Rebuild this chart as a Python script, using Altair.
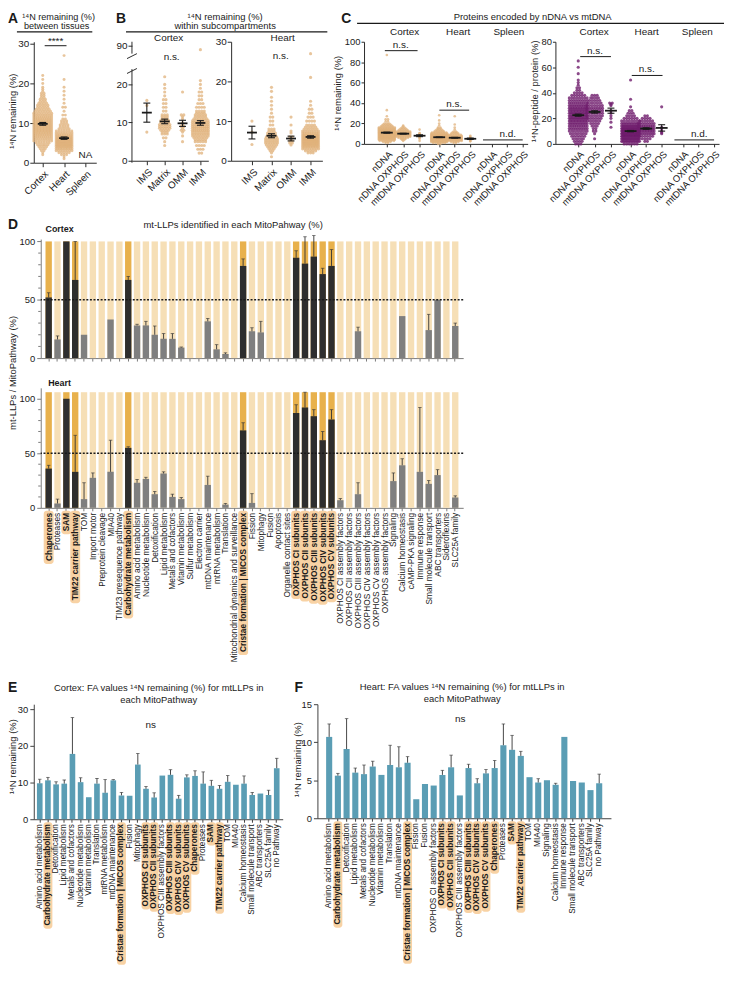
import altair as alt
import pandas as pd

FONT = "Liberation Sans"
INK = "#1a1a1a"
AX = "#2a2a2a"
TAN = "#e0b27b"
PURPLE = "#6f1d6d"
ORANGE_L = "#f6dfb6"
ORANGE_D = "#e8b14c"
DARK = "#2e2e2e"
GREY = "#7f7f7f"
HLBG = "#f8d2a4"
TEAL = "#5a9db4"
SUP = "\u00b9\u2074N"

ONE = pd.DataFrame({"a": [0]})

A_cats = ["Cortex", "Heart", "Spleen"]
A_cortex_v = [2, 2.5, 3, 3.5, 4, 4.5, 5, 5.5, 6, 6.5, 7, 7.5, 8, 8.5, 9, 9.5, 10, 10.5, 11, 11.5,
              12, 12.5, 13, 13.5, 14, 14.5, 15, 15.5, 16, 16.5, 17, 17.5, 18, 18.5, 19, 20, 21, 22]
A_cortex_n = [1, 1, 2, 3, 4, 5, 6, 8, 9, 10, 11, 12, 13, 13, 13, 13, 12, 12, 11, 10,
              9, 8, 7, 6, 5, 5, 4, 3, 3, 2, 2, 2, 1, 1, 1, 1, 1, 1]
A_heart_v = [1, 1.5, 2, 2.5, 3, 3.5, 4, 4.5, 5, 5.5, 6, 6.5, 7, 7.5, 8, 8.5, 9, 9.5, 10, 10.5,
             11, 12, 13, 14, 15, 16, 17, 18, 19, 21, 27]
A_heart_n = [1, 1, 3, 5, 8, 11, 14, 16, 17, 16, 14, 12, 10, 8, 7, 5, 4, 4, 3, 3,
             2, 2, 1, 2, 1, 1, 1, 1, 1, 1, 1]
A_mean = [9.8, 6.2]
A_sem = [0.35, 0.3]

# ---------------- Panel B ----------------
B_cats = ["IMS", "Matrix", "OMM", "IMM"]
Bc_IMS_v = [7.5, 14.5, 15.8]
Bc_IMS_n = [1, 1, 1]
Bc_Matrix_v = [4, 5, 6, 7, 7.5, 8, 8.5, 9, 9.5, 10, 10.5, 11, 11.5, 12, 13, 14, 15, 16, 17, 18, 19, 20, 22]
Bc_Matrix_n = [1, 1, 2, 3, 3, 4, 5, 5, 5, 4, 4, 3, 3, 3, 2, 2, 2, 2, 1, 1, 1, 1, 1]
Bc_OMM_v = [5, 6.5, 7.5, 8, 8.5, 9, 9.5, 10, 11, 11.5, 12, 18]
Bc_OMM_n = [1, 1, 1, 2, 1, 2, 1, 1, 1, 1, 2, 1]
Bc_IMM_v = [2, 3, 4, 5, 5.5, 6, 6.5, 7, 7.5, 8, 8.5, 9, 9.5, 10, 10.5, 11, 11.5, 12, 12.5, 13,
            14, 15, 16, 17, 18, 19, 20, 21, 88]
Bc_IMM_n = [2, 3, 4, 5, 5, 6, 7, 8, 8, 9, 9, 9, 8, 8, 7, 6, 5, 5, 4, 4,
            4, 3, 2, 2, 2, 1, 1, 1, 1]
Bc_mean = [12.6, 10.3, 9.8, 9.9]
Bc_sem = [2.5, 0.6, 0.8, 0.6]

Bh_IMS_v = [4.1, 7.2, 10]
Bh_IMS_n = [1, 1, 1]
Bh_Matrix_v = [1, 2, 2.5, 3, 3.5, 4, 4.5, 5, 5.5, 6, 6.5, 7, 7.5, 8, 9, 10, 11, 12, 13, 14, 15, 16, 17.5, 18.5]
Bh_Matrix_n = [1, 1, 2, 3, 4, 5, 6, 6, 6, 5, 4, 4, 3, 3, 2, 2, 2, 1, 1, 1, 1, 1, 1, 1]
Bh_OMM_v = [4, 4.5, 5, 5.5, 6, 7, 7.5, 9, 11]
Bh_OMM_n = [1, 2, 2, 1, 2, 1, 1, 1, 1]
Bh_IMM_v = [2, 2.5, 3, 3.5, 4, 4.5, 5, 5.5, 6, 6.5, 7, 7.5, 8, 8.5, 9, 10, 11, 12, 13, 14, 15, 21, 27]
Bh_IMM_n = [3, 5, 8, 11, 14, 16, 17, 16, 14, 12, 10, 8, 6, 5, 4, 4, 3, 2, 2, 1, 1, 1, 1]
Bh_mean = [7.1, 6.3, 5.6, 6.0]
Bh_sem = [1.6, 0.5, 0.6, 0.3]

# ---------------- Panel C ----------------
C_labels = ["nDNA", "nDNA OXPHOS", "mtDNA OXPHOS"] * 3
C_pos = [0, 1, 2, 3.2, 4.15, 5.1, 6.4, 7.35, 8.3]

Cl_ctx_n_v = [1, 2, 3, 4, 5, 6, 7, 8, 9, 10, 11, 12, 13, 14, 15, 16, 17, 18, 19, 20, 22, 24, 27, 33, 87]
Cl_ctx_n_n = [2, 4, 7, 10, 14, 18, 20, 22, 22, 21, 19, 17, 14, 12, 10, 8, 6, 5, 4, 3, 2, 2, 1, 1, 1]
Cl_ctx_o_v = [3, 4, 5, 6, 7, 8, 9, 10, 11, 12, 13, 14, 15, 16, 17, 18]
Cl_ctx_o_n = [1, 2, 3, 5, 7, 8, 9, 9, 8, 7, 5, 4, 3, 2, 1, 1]
Cl_ctx_m_v = [3, 5, 6, 7, 7.5, 8, 9, 10, 10.5, 14]
Cl_ctx_m_n = [1, 1, 1, 1, 1, 1, 1, 1, 1, 1]
Cl_hrt_n_v = [0, 1, 2, 3, 4, 5, 6, 7, 8, 9, 10, 11, 12, 13, 14, 15, 16, 18, 20, 23, 28]
Cl_hrt_n_n = [2, 6, 12, 20, 26, 28, 26, 22, 17, 13, 10, 7, 5, 4, 3, 2, 2, 1, 1, 1, 1]
Cl_hrt_o_v = [1, 2, 3, 4, 5, 6, 7, 8, 9, 10, 11, 12, 14, 16, 19, 27]
Cl_hrt_o_n = [2, 4, 8, 12, 14, 13, 10, 8, 6, 4, 3, 2, 1, 1, 1, 1]
Cl_hrt_m_v = [2.5, 3, 4, 4.5, 5, 5.5, 6, 7, 8]
Cl_hrt_m_n = [1, 1, 1, 1, 1, 1, 1, 1, 1]
Cl_mean = [11.0, 10.0, 8.0, 6.5, 6.0, 5.0]
Cl_sem = [0.5, 0.4, 0.9, 0.3, 0.4, 0.7]

Cr_ctx_n_v = [0, 2, 4, 6, 8, 10, 12, 14, 16, 18, 20, 22, 24, 26, 28, 30, 32, 34, 36, 38,
              40, 42, 44, 46, 48, 50, 55, 60, 65]
Cr_ctx_n_n = [3, 4, 5, 6, 7, 8, 10, 11, 12, 13, 14, 14, 14, 13, 12, 11, 10, 9, 8, 6,
              4, 2, 2, 1, 1, 1, 1, 1, 1]
Cr_ctx_o_v = [4, 8, 10, 12, 14, 16, 18, 20, 22, 24, 26, 28, 30, 32, 34, 36, 38]
Cr_ctx_o_n = [1, 1, 2, 2, 3, 4, 5, 6, 7, 8, 8, 8, 7, 6, 5, 4, 3]
Cr_ctx_m_v = [13, 17, 20, 22, 24, 26, 30, 31, 32]
Cr_ctx_m_n = [1, 1, 1, 1, 1, 1, 1, 1, 2]
Cr_hrt_n_v = [0, 2, 4, 6, 8, 10, 12, 14, 16, 18, 20, 22, 24, 26, 29, 35, 50]
Cr_hrt_n_n = [6, 14, 20, 24, 26, 26, 22, 17, 12, 8, 6, 4, 3, 2, 1, 1, 1]
Cr_hrt_o_v = [2, 4, 6, 8, 10, 12, 14, 16, 18, 20, 22]
Cr_hrt_o_n = [2, 4, 6, 9, 11, 12, 10, 8, 6, 4, 2]
Cr_hrt_m_v = [8, 9, 10, 12, 13, 29]
Cr_hrt_m_n = [1, 1, 1, 1, 1, 1]
Cr_mean = [22.5, 25.0, 26.0, 10.0, 12.0, 12.5]
Cr_sem = [0.8, 0.9, 2.0, 0.5, 0.6, 2.5]

# ---------------- Panel D ----------------
D_cats = ["Chaperones", "Proteases", "SAM", "TIM22 carrier pathway", "TOM", "Import motor",
          "Preprotein cleavage", "MIA40", "TIM23 presequence pathway", "Carbohydrate metabolism",
          "Amino acid metabolism", "Nucleotide metabolism", "Detoxification", "Lipid metabolism",
          "Metals and cofactors", "Vitamin metabolism", "Sulfur metabolism", "Electron carrier",
          "mtDNA maintenance", "mtRNA metabolism", "Translation",
          "Mitochondrial dynamics and surveillance", "Cristae formation | MICOS complex",
          "Fission", "Mitophagy", "Fusion", "Apoptosis", "Organelle contact sites",
          "OXPHOS CI subunits", "OXPHOS CII subunits", "OXPHOS CIII subunits",
          "OXPHOS CIV subunits", "OXPHOS CV subunits", "OXPHOS CI assembly factors",
          "OXPHOS CII assembly factors", "OXPHOS CIII assembly factors",
          "OXPHOS CIV assembly factors", "OXPHOS CV assembly factors", "OXPHOS assembly factors",
          "Signaling", "Calcium homeostasis", "cAMP-PKA signaling", "Immune response",
          "Small molecule transport", "ABC transporters", "Sideroflexins", "SLC25A family"]
HL = ["Chaperones", "SAM", "TIM22 carrier pathway", "Carbohydrate metabolism",
      "Cristae formation | MICOS complex", "OXPHOS CI subunits", "OXPHOS CII subunits",
      "OXPHOS CIII subunits", "OXPHOS CIV subunits", "OXPHOS CV subunits"]
D_ctx_val = [52, 16, 100, 67, 20, 0, 0, 33, 0, 67, 28, 28, 20, 16.5, 16.5, 9, 0, 0, 31.5, 7.5, 3.5,
             0, 79, 23, 22, 0, 0, 0, 86, 81, 87, 72, 79, 0, 0, 23, 0, 0, 0, 0, 36, 0, 0, 24, 50, 0, 27.5]
D_ctx_err = [56, 19, None, 100, None, None, None, None, None, 70, 29, 31.5, 27.5, 21, 21, 9.5, None,
             None, 34, 11.5, 4.5, None, 85, 26, 31.5, None, None, None, 92, 104, 105, 77, 93, None,
             None, 26.5, None, None, None, None, None, None, None, 37.5, None, None, 30]
D_hrt_val = [36, 4, 100, 33, 8, 27.5, 0, 33, 0, 55, 23, 26.5, 12.5, 31.5, 10, 8, 0, 0, 21, 0, 3,
             0, 71, 4.5, 0, 0, 0, 0, 87, 92, 84, 62, 81, 7, 0, 12.5, 0, 0, 0, 24.5, 39, 0, 33, 22,
             30, 0, 9.5]
D_hrt_err = [39, 8, None, 66.5, 23, 32, None, 62, None, 56, 26, 28, 15, 33, 12.5, 9.5, None, None,
             29, None, 4, None, 78, 13, None, None, None, None, 94.5, 106, 90, 70, 90, 8.5, None,
             23, None, None, None, 32, 45, None, 92, 25, 35, None, 11]
D_minor_ticks = [10, 20, 30, 40, 60, 70, 80, 90]

# ---------------- Panels E and F ----------------
E_cats = ["Amino acid metabolism", "Carbohydrate metabolism", "Detoxification", "Lipid metabolism",
          "Metals and cofactors", "Nucleotide metabolism", "Vitamin metabolism", "Translation",
          "mtRNA metabolism", "mtDNA maintenance", "Cristae formation | MICOS complex", "Fusion",
          "Mitophagy", "OXPHOS CI subunits", "OXPHOS CII subunits", "OXPHOS CIII assembly factors",
          "OXPHOS CIII subunits", "OXPHOS CIV subunits", "OXPHOS CV subunits", "Chaperones",
          "Proteases", "SAM", "TIM22 carrier pathway", "TOM", "MIA40", "Calcium homeostasis",
          "Small molecule transport", "ABC transporters", "SLC25A family", "no Pathway"]
E_val = [9.8, 10.6, 9.5, 9.7, 17.8, 10.1, 6.0, 9.7, 7.2, 10.6, 6.5, 6.4, 14.9, 8.3, 5.9, 11.9,
         12.1, 5.6, 11.4, 11.8, 9.7, 9.1, 8.3, 10.2, 9.4, 9.7, 6.6, 7.0, 6.6, 13.9]
E_err = [10.9, 11.4, 10.2, 10.7, 27.7, 11.3, None, 11.1, 10.8, 10.8, 7.3, None, 17.9, 8.9, 7.2,
         None, 13.5, 6.5, 12.1, 13.2, 12.9, 10.6, 9.2, 11.9, None, 11.8, 7.3, None, 7.9, 16.6]

F_cats = ["Amino acid metabolism", "Carbohydrate metabolism", "Detoxification", "Lipid metabolism",
          "Metals and cofactors", "Nucleotide metabolism", "Vitamin metabolism", "Translation",
          "mtDNA maintenance", "Cristae formation | MICOS complex", "Fission", "Fusion",
          "OXPHOS CI assembly factors", "OXPHOS CI subunits", "OXPHOS CII subunits",
          "OXPHOS CIII assembly factors", "OXPHOS CIII subunits", "OXPHOS CIV subunits",
          "OXPHOS CV subunits", "Chaperones", "Proteases", "SAM", "TIM22 carrier pathway", "TOM",
          "MIA40", "Signaling", "Calcium homeostasis", "Immune response", "Small molecule transport",
          "ABC transporters", "SLC25A family", "no Pathway"]
F_val = [10.7, 5.6, 9.1, 6.0, 5.8, 6.8, 5.7, 7.0, 6.7, 7.3, 2.5, 4.5, 4.3, 5.7, 6.7, 3.0, 6.6,
         4.6, 5.9, 6.6, 9.6, 9.0, 8.2, 5.4, 4.7, 5.0, 4.4, 10.7, 4.9, 4.7, 3.7, 4.6]
F_err = [12.4, 5.9, 13.1, 6.6, 7.0, 7.5, None, 9.6, 9.4, 8.1, None, None, None, 6.3, 8.3, None,
         7.1, 5.2, 6.4, 7.6, 12.4, 10.9, 8.8, None, 5.2, None, 4.6, None, None, None, None, 5.8]

# approximate bold glyph widths (per 1000 em) used to size label highlight boxes
_BW = {" ": 278, "|": 280, "(": 333, ")": 333, "-": 333, "2": 556}
_BW.update(zip("ABCDEFGHIJKLMNOPQRSTUVWXYZ",
               [722, 722, 722, 722, 667, 611, 778, 722, 278, 556, 722, 611, 833, 722, 778, 667,
                778, 722, 667, 611, 722, 667, 944, 667, 667, 611]))
_BW.update(zip("abcdefghijklmnopqrstuvwxyz",
               [556, 611, 556, 611, 556, 333, 611, 611, 278, 278, 556, 278, 889, 611, 611, 611,
                611, 389, 556, 333, 611, 556, 778, 556, 556, 500]))


def bold_w(s, size):
    return sum(_BW.get(ch, 600) for ch in s) * size / 1000.0


# ---------------- helpers ----------------
def text(s, x, y, size=9.5, weight="normal", align="center", baseline="middle", angle=0, color=INK):
    return alt.Chart(ONE).mark_text(text=s, font=FONT, fontSize=size, fontWeight=weight, align=align,
                                    baseline=baseline, angle=angle, color=color
                                    ).encode(x=alt.value(x), y=alt.value(y))


def hline(x1, x2, y, w=1.0):
    return alt.Chart(ONE).mark_rule(color=INK, strokeWidth=w).encode(
        x=alt.value(x1), x2=alt.value(x2), y=alt.value(y))


def seg(x1, y1, x2, y2, w=1.0):
    return alt.Chart(ONE).mark_rule(color=AX, strokeWidth=w).encode(
        x=alt.value(x1), x2=alt.value(x2), y=alt.value(y1), y2=alt.value(y2))


def spacer(w, h=1):
    return alt.Chart(ONE).mark_point(opacity=0, size=1).encode(
        x=alt.value(w / 2), y=alt.value(h / 2)).properties(width=w, height=h)


def swarm(groups, positions, unit_px, half_px, gap=2.6):
    rows = []
    for (vals, cnts), pos, hp in zip(groups, positions, half_px):
        for v, c in zip(vals, cnts):
            sp = gap if c < 2 else min(gap, 2.0 * hp / (c - 1))
            for k in range(c):
                rows.append({"x": pos + (k - (c - 1) / 2.0) * sp / unit_px, "y": v})
    return pd.DataFrame(rows)


def stat_df(pos, means, sems, unit, mh=5.0, ch=3.5):
    return pd.DataFrame({
        "pos": pos, "mean": means,
        "lo": [m - s for m, s in zip(means, sems)], "hi": [m + s for m, s in zip(means, sems)],
        "ml": [p - mh / unit for p in pos], "mr": [p + mh / unit for p in pos],
        "cl": [p - ch / unit for p in pos], "cr": [p + ch / unit for p in pos]})


def scatter_panel(pts, st, width, height, xdom, yscale, yvals, xvals, xlabels, color, size,
                  extras, ydomain_line=True, lab=10, tick=4, opacity=0.75):
    expr = "[" + ",".join("'%s'" % l for l in xlabels) + "][indexof([" + \
           ",".join(repr(v) for v in xvals) + "], datum.value)]"
    xax = alt.Axis(values=xvals, labelExpr=expr, labelAngle=-45, labelAlign="right", title=None,
                   tickSize=tick, labelFontSize=lab, labelPadding=2, labelOverlap=False,
                   labelFlush=False)
    yax = alt.Axis(values=yvals, title=None, tickSize=tick, labelFontSize=lab, labelPadding=1,
                   domain=ydomain_line, labelOverlap=False, labelFlush=False)
    xs = alt.Scale(domain=xdom, nice=False, zero=False)

    def X(f):
        return alt.X(f, scale=xs, axis=xax)

    def Y(f):
        return alt.Y(f, scale=yscale, axis=yax)

    p = alt.Chart(pts).mark_circle(size=size, opacity=opacity, color=color).encode(x=X("x:Q"), y=Y("y:Q"))
    m = alt.Chart(st).mark_rule(color=INK, strokeWidth=1.8).encode(x=X("ml:Q"), x2="mr:Q", y=Y("mean:Q"))
    e = alt.Chart(st).mark_rule(color=INK, strokeWidth=1.1).encode(x=X("pos:Q"), y=Y("lo:Q"), y2="hi:Q")
    c1 = alt.Chart(st).mark_rule(color=INK, strokeWidth=1.1).encode(x=X("cl:Q"), x2="cr:Q", y=Y("lo:Q"))
    c2 = alt.Chart(st).mark_rule(color=INK, strokeWidth=1.1).encode(x=X("cl:Q"), x2="cr:Q", y=Y("hi:Q"))
    return alt.layer(p, m, e, c1, c2, *extras).properties(width=width, height=height)


def label_layers(cats, X, base_y, size, rect_w):
    df = pd.DataFrame({"cat": cats})
    df["hl"] = df["cat"].isin(HL)
    df["r0"] = base_y - 2.0
    df["r1"] = [base_y + bold_w(c, size) + 3.0 for c in cats]
    rect = alt.Chart(df[df["hl"]]).mark_bar(width=rect_w, cornerRadius=3, color=HLBG).encode(
        x=X, y=alt.Y("r0:Q", scale=alt.Scale(domain=[0, 1000], range=[0, 1000], nice=False), axis=None),
        y2="r1:Q")
    tn = alt.Chart(df[~df["hl"]]).mark_text(angle=270, align="right", baseline="middle", fontSize=size,
                                            font=FONT, color=INK).encode(x=X, y=alt.value(base_y), text="cat:N")
    tb = alt.Chart(df[df["hl"]]).mark_text(angle=270, align="right", baseline="middle", fontSize=size,
                                           font=FONT, fontWeight="bold", color=INK).encode(
        x=X, y=alt.value(base_y), text="cat:N")
    return [rect, tn, tb]


def bar_panel(cats, vals, errs, bg, ydom, yvals, width, height, pin, pout, extras, mode,
              labels=False, lab_size=8.4, rect_w=10, axis_color="#7a7a7a"):
    df = pd.DataFrame({"cat": cats, "val": vals, "err": errs, "hl": [c in HL for c in cats]})
    if bg is not None:
        df["bg"] = bg
    xs = alt.Scale(paddingInner=pin, paddingOuter=pout)
    xax = alt.Axis(labels=False, title=None, tickSize=3, domainColor=axis_color, tickColor=axis_color)
    yax = alt.Axis(values=yvals, title=None, tickSize=4, domainColor=axis_color, tickColor=axis_color,
                   labelFontSize=9.5, labelPadding=2)
    X = alt.X("cat:N", sort=cats, scale=xs, axis=xax)
    ys = alt.Scale(domain=ydom, nice=False)

    def Y(f):
        return alt.Y(f, scale=ys, axis=yax)

    layers = []
    if mode == "D":
        layers.append(alt.Chart(df).mark_bar().encode(
            x=X, y=Y("bg:Q"), color=alt.condition("datum.hl", alt.value(ORANGE_D), alt.value(ORANGE_L))))
        layers.append(alt.Chart(df).transform_filter("datum.val > 0").mark_bar().encode(
            x=X, y=Y("val:Q"), color=alt.condition("datum.hl", alt.value(DARK), alt.value(GREY))))
    else:
        layers.append(alt.Chart(df).mark_bar(color=TEAL).encode(x=X, y=Y("val:Q")))
    layers.append(alt.Chart(df).transform_filter("isValid(datum.err)").mark_rule(
        color="#333333", strokeWidth=0.9).encode(x=X, y=Y("val:Q"), y2="err:Q"))
    layers.append(alt.Chart(df).transform_filter("isValid(datum.err)").mark_tick(
        color="#333333", size=3.5, thickness=0.9, orient="horizontal").encode(x=X, y=Y("err:Q")))
    if mode == "D":
        layers.append(alt.Chart(ONE).mark_rule(color=INK, strokeDash=[2, 1.6], strokeWidth=1.4).encode(
            y=alt.YDatum(50, scale=ys, axis=yax)))
        minor = pd.DataFrame({"t": D_minor_ticks})
        layers.append(alt.Chart(minor).mark_rule(color=axis_color, strokeWidth=1).encode(
            x=alt.value(-2.5), x2=alt.value(0), y=Y("t:Q")))
    inner = alt.layer(*layers)
    outer = [inner]
    if labels:
        outer += label_layers(cats, X, height + 5, lab_size, rect_w)
    return alt.layer(*outer, *extras).resolve_scale(y="independent").properties(width=width, height=height)


# ---------------- Panel A ----------------
A_pts = swarm([(A_cortex_v, A_cortex_n), (A_heart_v, A_heart_n)], [0, 1], 21.5, [9, 8])
A_st = stat_df([0, 1], A_mean, A_sem, 21.5)
A_extra = [
    text("A", -26, -29.5, 14, "bold", "left", "top"),
    text(SUP + " remaining (%)", 25, -25, 9.2), text("between tissues", 23, -15.5, 9.2),
    hline(-17, 59, -10, 1.2),
    hline(11, 33, 4), text("****", 22, 4, 10, baseline="bottom"),
    text("NA", 52, 114, 10),
    text(SUP + " remaining (%)", -21, 70, angle=270),
]
A = scatter_panel(A_pts, A_st, 63, 122, [-0.42, 2.51], alt.Scale(domain=[0, 30.5], nice=False),
                  [0, 10, 20, 30], [0, 1, 2], A_cats, TAN, 9, A_extra)

# ---------------- Panel B ----------------
Bc_pts = swarm([(Bc_IMS_v, Bc_IMS_n), (Bc_Matrix_v, Bc_Matrix_n), (Bc_OMM_v, Bc_OMM_n),
                (Bc_IMM_v, Bc_IMM_n)], [0, 1, 2, 3], 18, [3, 6, 5, 8])
Bc_st = stat_df([0, 1, 2, 3], Bc_mean, Bc_sem, 18)
Bc_extra = [
    text("B", -16, -29.5, 14, "bold", "left", "top"),
    text(SUP + " remaining (%)", 94, -25), text("within subcompartments", 94, -15.5),
    hline(-6, 197, -10, 1.2),
    text("Cortex", 37, -4, 10), text("n.s.", 40, 15, 10),
    seg(0, 27.6, 0, 122), seg(0, 0, 0, 12), seg(-5, 32, 5, 27), seg(-5, 17, 5, 12),
]
Bc = scatter_panel(Bc_pts, Bc_st, 77, 120, [-0.833, 3.444],
                   alt.Scale(domain=[0, 24, 86, 92], range=[120, 27.6, 12, 0], nice=False, zero=False),
                   [0, 10, 20, 90], [0, 1, 2, 3], B_cats, TAN, 10, Bc_extra, ydomain_line=False)

Bh_pts = swarm([(Bh_IMS_v, Bh_IMS_n), (Bh_Matrix_v, Bh_Matrix_n), (Bh_OMM_v, Bh_OMM_n),
                (Bh_IMM_v, Bh_IMM_n)], [0, 1, 2, 3], 19.7, [3, 6, 5, 8])
Bh_st = stat_df([0, 1, 2, 3], Bh_mean, Bh_sem, 19.7)
Bh_extra = [text("Heart", 52, -4, 10), text("n.s.", 50, 14, 10)]
Bh = scatter_panel(Bh_pts, Bh_st, 92, 120, [-1.066, 3.604], alt.Scale(domain=[0, 30], nice=False),
                   [0, 10, 20, 30], [0, 1, 2, 3], B_cats, TAN, 10, Bh_extra)

# ---------------- Panel C ----------------
Cl_pts = swarm([(Cl_ctx_n_v, Cl_ctx_n_n), (Cl_ctx_o_v, Cl_ctx_o_n), (Cl_ctx_m_v, Cl_ctx_m_n),
                (Cl_hrt_n_v, Cl_hrt_n_n), (Cl_hrt_o_v, Cl_hrt_o_n), (Cl_hrt_m_v, Cl_hrt_m_n)],
               C_pos[:6], 16.5, [8, 7, 4, 8, 7, 4], gap=2.4)
Cl_st = stat_df(C_pos[:6], Cl_mean, Cl_sem, 16.5, mh=6)
Cl_extra = [
    text("C", -23, -29.5, 14, "bold", "left", "top"),
    text("Proteins encoded by nDNA vs mtDNA", 170, -25),
    hline(-7, 363, -18.5, 1.2),
    text("Cortex", 41, -10, 10), text("Heart", 95, -10, 10), text("Spleen", 146, -10, 10),
    hline(21, 54, 9), text("n.s.", 37, 3, 10),
    hline(76, 106, 69), text("n.s.", 91, 63, 10),
    hline(120, 160, 99), text("n.d.", 145, 93, 10),
    text(SUP + " remaining (%)", -26, 52, angle=270),
]
Cl = scatter_panel(Cl_pts, Cl_st, 165, 103, [-1.394, 8.606], alt.Scale(domain=[0, 100], nice=False),
                   [0, 20, 40, 60, 80, 100], C_pos, C_labels, TAN, 7, Cl_extra, lab=9.5, tick=3)

Cr_pts = swarm([(Cr_ctx_n_v, Cr_ctx_n_n), (Cr_ctx_o_v, Cr_ctx_o_n), (Cr_ctx_m_v, Cr_ctx_m_n),
                (Cr_hrt_n_v, Cr_hrt_n_n), (Cr_hrt_o_v, Cr_hrt_o_n), (Cr_hrt_m_v, Cr_hrt_m_n)],
               C_pos[:6], 16.5, [9, 8, 5, 9, 8, 5], gap=2.6)
Cr_st = stat_df(C_pos[:6], Cr_mean, Cr_sem, 16.5, mh=6)
Cr_extra = [
    text("Cortex", 39, -10, 10), text("Heart", 92, -10, 10), text("Spleen", 143, -10, 10),
    hline(25, 56, 15), text("n.s.", 40, 9, 10),
    hline(77, 108, 34), text("n.s.", 92, 28, 10),
    hline(120, 160, 99), text("n.d.", 145, 93, 10),
    text(SUP + "-peptide / protein (%)", -21, 50, angle=270),
]
Cr = scatter_panel(Cr_pts, Cr_st, 165, 103, [-1.394, 8.606], alt.Scale(domain=[0, 80], nice=False),
                   [0, 20, 40, 60, 80], C_pos, C_labels, PURPLE, 10, Cr_extra, lab=9.5, tick=3,
                   opacity=0.8)

# ---------------- Panel D ----------------
Dc_extra = [
    text("D", -33, -21, 14, "bold", "left", "top"),
    text("Cortex", 19, -10, 9, "bold"),
    text("mt-LLPs identified in each MitoPahway (%)", 194, -14, 9.5),
    text("mt-LLPs / MitoPathway (%)", -28, 135, angle=270),
]
Dc = bar_panel(D_cats, D_ctx_val, D_ctx_err, [100] * len(D_cats), [0, 102], [0, 50, 100], 426, 120,
               0.28, 0.54, Dc_extra, "D")
Dh_extra = [text("Heart", 19, -5, 9, "bold")]
Dh = bar_panel(D_cats, D_hrt_val, D_hrt_err, [106] * len(D_cats), [0, 110], [0, 50, 100], 426, 121,
               0.28, 0.54, Dh_extra, "D", labels=True, lab_size=8.4, rect_w=10)

# ---------------- Panels E, F ----------------
E_extra = [
    text("E", -26, -23, 14, "bold", "left", "top"),
    text("Cortex: FA values " + SUP + " remaining (%) for mtLLPs in", 126, -16),
    text("each MitoPathway", 126, -4),
    text("ns", 118, 21, 10),
    text(SUP + " remaining (%)", -21, 53, angle=270),
]
E = bar_panel(E_cats, E_val, E_err, None, [0, 31.35], [0, 10, 20, 30], 251, 116, 0.31, 0.385, E_extra,
              "E", labels=True, lab_size=8.3, rect_w=9, axis_color="#404040")
F_extra = [
    text("F", -23, -23, 14, "bold", "left", "top"),
    text("Heart: FA values " + SUP + " remaining (%) for mtLLPs in", 146, -17),
    text("each MitoPathway", 146, -5),
    text("ns", 144, 15, 10),
    text(SUP + " remaining (%)", -20, 56, angle=270),
]
F = bar_panel(F_cats, F_val, F_err, None, [0, 15], [0, 5, 10, 15], 296, 115, 0.3, 1.0, F_extra,
              "E", labels=True, lab_size=8.3, rect_w=9, axis_color="#404040")

# ---------------- layout (flush: rows count by the spacers' heights) ----------------
row1 = alt.hconcat(spacer(26), A, spacer(36), Bc, spacer(23), Bh, spacer(42), Cl, spacer(28), Cr,
                   spacing=0, bounds="flush")
rowD1 = alt.hconcat(spacer(33), Dc, spacing=0, bounds="flush")
rowD2 = alt.hconcat(spacer(33), Dh, spacing=0, bounds="flush")
row3 = alt.hconcat(spacer(26), E, spacer(35), F, spacing=0, bounds="flush")

chart = alt.vconcat(row1, spacer(1, 199), rowD1, spacer(1, 150), rowD2, spacer(1, 319), row3,
                    spacing=0, bounds="flush").properties(padding=0)
chart = chart.configure_view(stroke=None).configure_axis(
    labelFont=FONT, titleFont=FONT, domainColor=AX, tickColor=AX, labelColor=INK, grid=False,
    domainWidth=1, tickWidth=1)

chart.save("out.html", embed_options={"renderer": "svg", "actions": False})
